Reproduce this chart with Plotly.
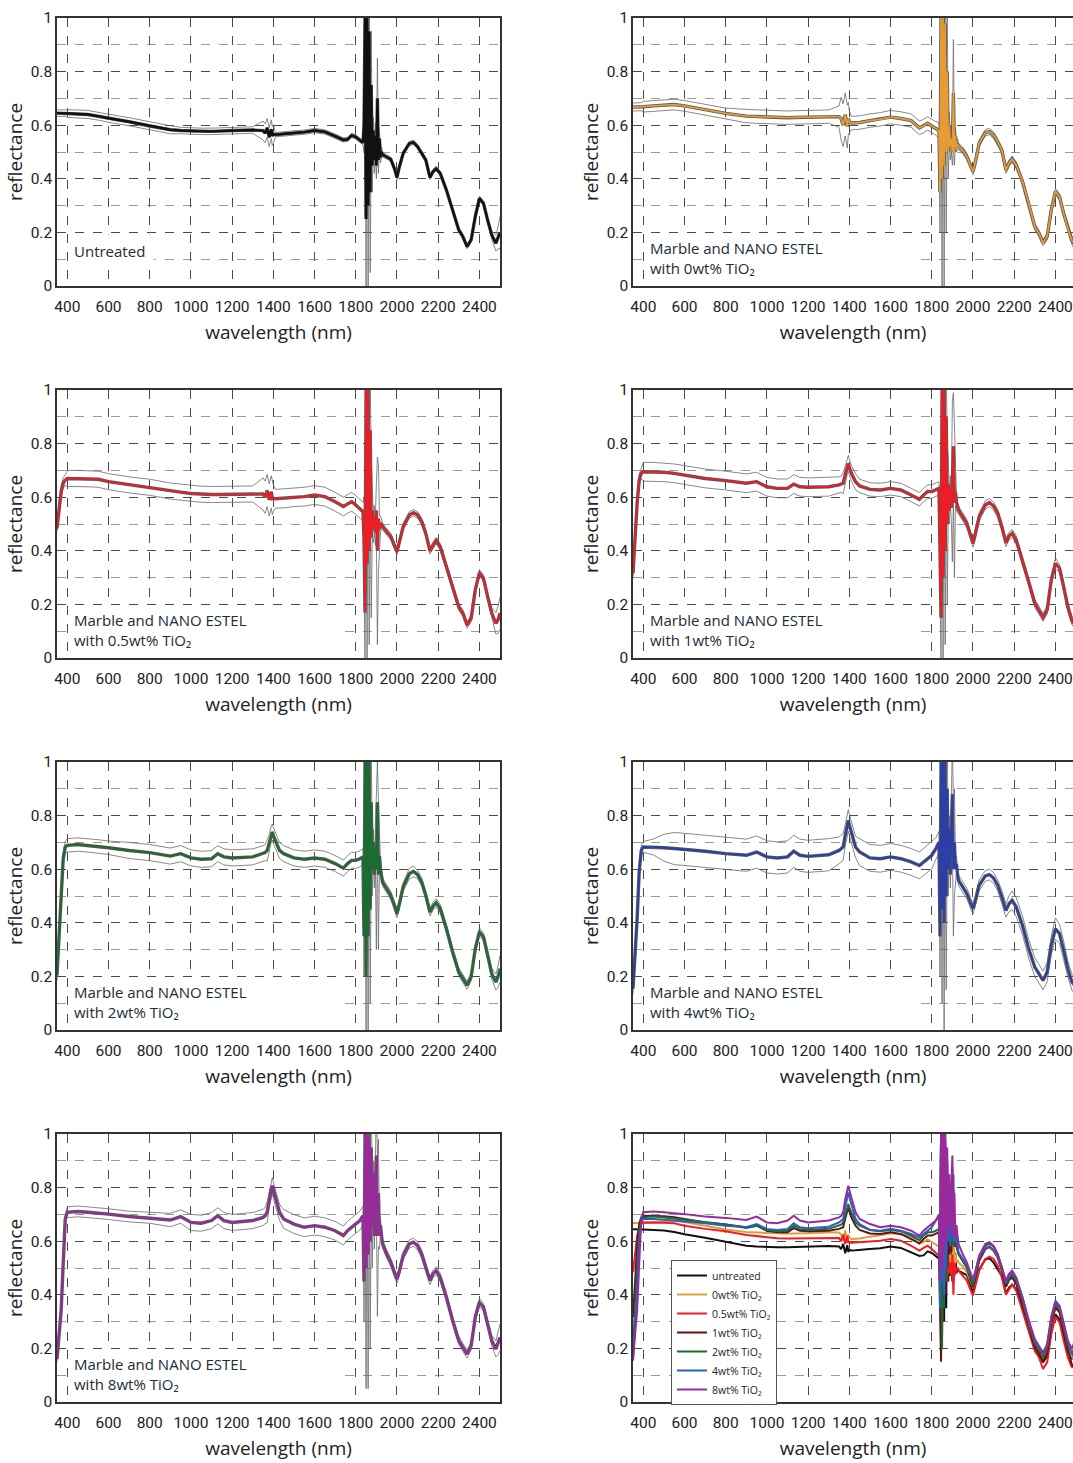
import plotly.graph_objects as go

# ---------------- data ----------------
wl = [350, 360, 370, 380, 390, 400, 450, 500, 550, 600,
      700, 800, 900, 950, 1000, 1050, 1100, 1130, 1160, 1200,
      1300, 1350, 1360, 1370, 1380, 1390, 1395, 1400, 1410, 1430,
      1450, 1500, 1550, 1600, 1650, 1700, 1740, 1760, 1780, 1800,
      1820, 1835,
      1840, 1845, 1850, 1855, 1860, 1865, 1870, 1875, 1880, 1885,
      1890, 1895, 1900, 1905, 1910, 1915, 1920, 1925,
      1930, 1950, 1970, 1990, 2000, 2010, 2030, 2060, 2080, 2100,
      2120, 2140, 2160, 2175, 2190, 2210, 2240, 2270, 2300, 2320,
      2340, 2360, 2380, 2400, 2420, 2440, 2460, 2480, 2490, 2500]

m_untreated = [
    0.645, 0.645, 0.645, 0.645, 0.645, 0.644, 0.642, 0.640, 0.634, 0.626,
    0.613, 0.597, 0.583, 0.580, 0.578, 0.577, 0.577, 0.578, 0.578, 0.580,
    0.582, 0.580, 0.570, 0.590, 0.555, 0.585, 0.560, 0.567, 0.565, 0.566,
    0.568, 0.571, 0.574, 0.580, 0.575, 0.560, 0.545, 0.547, 0.562, 0.556,
    0.545, 0.535,
    0.60, 1.00, 0.25, 1.00, 0.30, 0.95, 0.35, 0.75, 0.45, 0.58,
    0.47, 0.56, 0.45, 0.70, 0.47, 0.55, 0.48, 0.50,
    0.490, 0.483, 0.473, 0.433, 0.405, 0.440, 0.495, 0.532, 0.536, 0.520,
    0.495, 0.470, 0.405, 0.427, 0.438, 0.420, 0.358, 0.284, 0.209, 0.184,
    0.147, 0.172, 0.259, 0.327, 0.308, 0.246, 0.190, 0.160, 0.178, 0.200]
d_untreated = [
    0.012, 0.012, 0.012, 0.012, 0.012, 0.015, 0.015, 0.015, 0.015, 0.015,
    0.015, 0.015, 0.015, 0.012, 0.012, 0.012, 0.012, 0.012, 0.012, 0.012,
    0.012, 0.035, 0.035, 0.035, 0.035, 0.035, 0.035, 0.035, 0.008, 0.008,
    0.008, 0.008, 0.008, 0.008, 0.008, 0.008, 0.008, 0.008, 0.008, 0.008,
    0.008, 0.008,
    0.10, 0.20, 0.25, 0.20, 0.30, 0.20, 0.30, 0.20, 0.10, 0.05,
    0.05, 0.05, 0.05, 0.15, 0.05, 0.03, 0.02, 0.02,
    0.008, 0.008, 0.008, 0.008, 0.008, 0.008, 0.008, 0.008, 0.008, 0.008,
    0.008, 0.008, 0.008, 0.008, 0.008, 0.008, 0.008, 0.008, 0.008, 0.008,
    0.008, 0.008, 0.008, 0.008, 0.008, 0.010, 0.015, 0.030, 0.040, 0.060]

m_0wt = [
    0.668, 0.668, 0.668, 0.669, 0.669, 0.669, 0.672, 0.675, 0.677, 0.672,
    0.657, 0.644, 0.634, 0.632, 0.630, 0.629, 0.628, 0.629, 0.629, 0.630,
    0.632, 0.632, 0.625, 0.600, 0.640, 0.595, 0.625, 0.613, 0.608, 0.609,
    0.610, 0.617, 0.622, 0.630, 0.625, 0.617, 0.590, 0.597, 0.607, 0.597,
    0.588, 0.580,
    0.35, 1.00, 0.40, 1.00, 0.45, 0.98, 0.50, 0.80, 0.50, 0.60,
    0.52, 0.55, 0.50, 0.72, 0.50, 0.56, 0.52, 0.53,
    0.520, 0.507, 0.483, 0.450, 0.427, 0.458, 0.532, 0.572, 0.576, 0.563,
    0.538, 0.507, 0.433, 0.458, 0.473, 0.451, 0.390, 0.310, 0.221, 0.197,
    0.162, 0.184, 0.284, 0.352, 0.333, 0.271, 0.215, 0.170, 0.160, 0.150]
d_0wt = [
    0.015, 0.015, 0.015, 0.015, 0.015, 0.020, 0.020, 0.020, 0.020, 0.020,
    0.020, 0.020, 0.025, 0.025, 0.025, 0.025, 0.025, 0.025, 0.025, 0.025,
    0.025, 0.040, 0.080, 0.080, 0.080, 0.080, 0.060, 0.040, 0.025, 0.025,
    0.025, 0.025, 0.025, 0.025, 0.025, 0.025, 0.025, 0.025, 0.025, 0.025,
    0.025, 0.030,
    0.15, 0.20, 0.40, 0.20, 0.45, 0.20, 0.30, 0.20, 0.10, 0.05,
    0.05, 0.05, 0.05, 0.20, 0.05, 0.03, 0.02, 0.02,
    0.012, 0.012, 0.012, 0.012, 0.012, 0.012, 0.012, 0.012, 0.012, 0.012,
    0.012, 0.012, 0.012, 0.012, 0.012, 0.012, 0.012, 0.012, 0.012, 0.012,
    0.012, 0.012, 0.012, 0.012, 0.012, 0.012, 0.012, 0.015, 0.020, 0.030]

m_05wt = [
    0.484, 0.565, 0.620, 0.652, 0.664, 0.670, 0.670, 0.669, 0.667, 0.658,
    0.646, 0.637, 0.623, 0.619, 0.614, 0.611, 0.610, 0.610, 0.610, 0.610,
    0.612, 0.612, 0.600, 0.625, 0.590, 0.620, 0.595, 0.596, 0.594, 0.595,
    0.595, 0.600, 0.602, 0.608, 0.602, 0.583, 0.565, 0.575, 0.583, 0.571,
    0.558, 0.546,
    0.45, 0.17, 1.00, 0.35, 1.00, 0.40, 0.85, 0.45, 0.55, 0.48,
    0.52, 0.47, 0.55, 0.40, 0.52, 0.48, 0.50, 0.50,
    0.490, 0.471, 0.453, 0.415, 0.397, 0.428, 0.490, 0.534, 0.542, 0.534,
    0.509, 0.465, 0.400, 0.420, 0.438, 0.415, 0.341, 0.266, 0.190, 0.167,
    0.123, 0.148, 0.254, 0.318, 0.297, 0.229, 0.167, 0.129, 0.142, 0.167]
d_05wt = [
    0.010, 0.020, 0.020, 0.020, 0.020, 0.030, 0.030, 0.030, 0.030, 0.030,
    0.030, 0.030, 0.030, 0.030, 0.030, 0.030, 0.030, 0.030, 0.030, 0.030,
    0.030, 0.060, 0.060, 0.060, 0.060, 0.060, 0.060, 0.050, 0.035, 0.035,
    0.035, 0.035, 0.035, 0.035, 0.035, 0.035, 0.035, 0.035, 0.035, 0.035,
    0.035, 0.035,
    0.15, 0.20, 0.20, 0.35, 0.20, 0.35, 0.20, 0.30, 0.10, 0.05,
    0.05, 0.05, 0.10, 0.35, 0.20, 0.05, 0.03, 0.02,
    0.012, 0.012, 0.012, 0.012, 0.012, 0.012, 0.012, 0.012, 0.012, 0.012,
    0.012, 0.012, 0.012, 0.012, 0.012, 0.012, 0.012, 0.012, 0.012, 0.012,
    0.012, 0.012, 0.012, 0.012, 0.012, 0.012, 0.020, 0.040, 0.050, 0.060]

m_1wt = [
    0.316, 0.453, 0.577, 0.664, 0.689, 0.695, 0.695, 0.693, 0.689, 0.683,
    0.670, 0.662, 0.652, 0.658, 0.639, 0.633, 0.633, 0.649, 0.639, 0.637,
    0.639, 0.646, 0.648, 0.652, 0.685, 0.715, 0.726, 0.712, 0.689, 0.658,
    0.642, 0.629, 0.627, 0.633, 0.627, 0.608, 0.592, 0.608, 0.621, 0.621,
    0.627, 0.633,
    0.40, 0.15, 1.00, 0.30, 1.00, 0.40, 0.90, 0.50, 0.65, 0.55,
    0.63, 0.56, 0.66, 0.79, 0.58, 0.62, 0.58, 0.56,
    0.552, 0.527, 0.502, 0.453, 0.428, 0.459, 0.527, 0.571, 0.580, 0.567,
    0.540, 0.490, 0.430, 0.455, 0.465, 0.440, 0.366, 0.285, 0.204, 0.179,
    0.152, 0.179, 0.291, 0.353, 0.335, 0.266, 0.192, 0.140, 0.130, 0.120]
d_1wt = [
    0.020, 0.020, 0.020, 0.020, 0.020, 0.035, 0.035, 0.035, 0.035, 0.035,
    0.035, 0.035, 0.035, 0.035, 0.035, 0.035, 0.035, 0.035, 0.035, 0.035,
    0.035, 0.030, 0.030, 0.040, 0.030, 0.030, 0.030, 0.030, 0.030, 0.030,
    0.025, 0.025, 0.025, 0.025, 0.025, 0.025, 0.025, 0.025, 0.025, 0.025,
    0.025, 0.025,
    0.15, 0.15, 0.20, 0.30, 0.20, 0.35, 0.20, 0.30, 0.10, 0.05,
    0.05, 0.05, 0.30, 0.20, 0.28, 0.05, 0.03, 0.02,
    0.015, 0.015, 0.015, 0.015, 0.015, 0.015, 0.015, 0.015, 0.015, 0.015,
    0.015, 0.015, 0.015, 0.015, 0.015, 0.015, 0.015, 0.015, 0.015, 0.015,
    0.015, 0.015, 0.015, 0.020, 0.015, 0.015, 0.015, 0.015, 0.015, 0.015]

m_2wt = [
    0.204, 0.340, 0.502, 0.639, 0.683, 0.689, 0.692, 0.689, 0.685, 0.680,
    0.670, 0.662, 0.649, 0.658, 0.642, 0.637, 0.639, 0.658, 0.646, 0.642,
    0.646, 0.658, 0.662, 0.670, 0.700, 0.730, 0.739, 0.725, 0.708, 0.670,
    0.658, 0.642, 0.637, 0.642, 0.637, 0.621, 0.604, 0.621, 0.633, 0.633,
    0.639, 0.646,
    0.35, 1.00, 0.20, 1.00, 0.35, 1.00, 0.45, 0.85, 0.60, 0.70,
    0.58, 0.68, 0.60, 0.85, 0.58, 0.65, 0.60, 0.58,
    0.552, 0.527, 0.502, 0.459, 0.434, 0.465, 0.534, 0.583, 0.592, 0.580,
    0.552, 0.502, 0.440, 0.462, 0.475, 0.453, 0.378, 0.291, 0.216, 0.192,
    0.167, 0.198, 0.303, 0.366, 0.347, 0.279, 0.210, 0.179, 0.198, 0.229]
d_2wt = [
    0.020, 0.020, 0.020, 0.020, 0.020, 0.025, 0.025, 0.025, 0.025, 0.025,
    0.030, 0.030, 0.030, 0.030, 0.030, 0.030, 0.030, 0.030, 0.030, 0.030,
    0.030, 0.030, 0.030, 0.040, 0.030, 0.030, 0.030, 0.030, 0.030, 0.030,
    0.030, 0.030, 0.030, 0.030, 0.030, 0.030, 0.030, 0.030, 0.030, 0.030,
    0.030, 0.030,
    0.15, 0.20, 0.20, 0.20, 0.35, 0.20, 0.35, 0.20, 0.10, 0.05,
    0.05, 0.05, 0.30, 0.15, 0.28, 0.05, 0.03, 0.02,
    0.015, 0.015, 0.015, 0.015, 0.015, 0.015, 0.015, 0.020, 0.020, 0.015,
    0.015, 0.015, 0.015, 0.015, 0.015, 0.015, 0.015, 0.015, 0.015, 0.015,
    0.015, 0.015, 0.015, 0.015, 0.015, 0.015, 0.020, 0.030, 0.040, 0.050]

m_4wt = [
    0.154, 0.266, 0.415, 0.590, 0.670, 0.683, 0.683, 0.680, 0.677, 0.674,
    0.667, 0.658, 0.652, 0.664, 0.646, 0.642, 0.646, 0.667, 0.652, 0.648,
    0.654, 0.670, 0.675, 0.683, 0.726, 0.770, 0.782, 0.765, 0.739, 0.683,
    0.664, 0.642, 0.639, 0.646, 0.639, 0.627, 0.614, 0.627, 0.642, 0.652,
    0.677, 0.701,
    0.35, 1.00, 0.45, 1.00, 0.40, 1.00, 0.50, 0.90, 0.60, 0.75,
    0.58, 0.72, 0.88, 0.60, 0.70, 0.60, 0.62, 0.58,
    0.558, 0.534, 0.509, 0.471, 0.453, 0.478, 0.540, 0.575, 0.580, 0.567,
    0.540, 0.496, 0.446, 0.471, 0.484, 0.459, 0.391, 0.304, 0.235, 0.210,
    0.185, 0.216, 0.316, 0.378, 0.359, 0.297, 0.229, 0.179, 0.170, 0.160]
d_4wt = [
    0.020, 0.020, 0.020, 0.020, 0.020, 0.020, 0.030, 0.050, 0.060, 0.060,
    0.060, 0.060, 0.060, 0.060, 0.060, 0.060, 0.060, 0.060, 0.060, 0.060,
    0.060, 0.050, 0.050, 0.050, 0.040, 0.040, 0.040, 0.040, 0.040, 0.040,
    0.050, 0.050, 0.050, 0.050, 0.050, 0.050, 0.050, 0.050, 0.050, 0.050,
    0.040, 0.040,
    0.15, 0.20, 0.35, 0.20, 0.40, 0.20, 0.35, 0.20, 0.10, 0.05,
    0.05, 0.05, 0.20, 0.25, 0.20, 0.05, 0.03, 0.02,
    0.020, 0.020, 0.020, 0.020, 0.020, 0.020, 0.020, 0.020, 0.020, 0.020,
    0.020, 0.025, 0.025, 0.030, 0.035, 0.035, 0.035, 0.035, 0.035, 0.035,
    0.035, 0.035, 0.035, 0.040, 0.035, 0.035, 0.030, 0.030, 0.030, 0.030]

m_8wt = [
    0.160, 0.266, 0.340, 0.515, 0.683, 0.708, 0.711, 0.708, 0.705, 0.701,
    0.692, 0.687, 0.679, 0.692, 0.670, 0.667, 0.677, 0.695, 0.677, 0.670,
    0.677, 0.689, 0.695, 0.708, 0.757, 0.795, 0.807, 0.790, 0.764, 0.708,
    0.683, 0.664, 0.652, 0.658, 0.652, 0.639, 0.621, 0.639, 0.652, 0.664,
    0.677, 0.695,
    0.45, 1.00, 0.50, 1.00, 0.55, 1.00, 0.60, 0.95, 0.65, 0.85,
    0.62, 0.80, 0.92, 0.62, 0.78, 0.62, 0.66, 0.62,
    0.590, 0.552, 0.521, 0.478, 0.459, 0.484, 0.546, 0.590, 0.596, 0.583,
    0.552, 0.502, 0.453, 0.478, 0.490, 0.465, 0.391, 0.304, 0.229, 0.204,
    0.179, 0.210, 0.316, 0.372, 0.353, 0.291, 0.229, 0.198, 0.216, 0.241]
d_8wt = [
    0.010, 0.010, 0.010, 0.010, 0.010, 0.020, 0.020, 0.020, 0.020, 0.020,
    0.020, 0.020, 0.025, 0.025, 0.030, 0.030, 0.030, 0.030, 0.030, 0.030,
    0.030, 0.030, 0.030, 0.040, 0.030, 0.030, 0.030, 0.030, 0.030, 0.030,
    0.035, 0.035, 0.035, 0.035, 0.035, 0.035, 0.035, 0.035, 0.035, 0.035,
    0.035, 0.035,
    0.15, 0.20, 0.45, 0.20, 0.50, 0.20, 0.40, 0.20, 0.15, 0.05,
    0.05, 0.05, 0.20, 0.30, 0.20, 0.05, 0.03, 0.02,
    0.015, 0.015, 0.015, 0.015, 0.015, 0.015, 0.015, 0.015, 0.015, 0.015,
    0.015, 0.015, 0.015, 0.015, 0.015, 0.015, 0.015, 0.015, 0.015, 0.015,
    0.015, 0.015, 0.015, 0.015, 0.015, 0.015, 0.020, 0.030, 0.040, 0.050]

series_names = ["untreated", "0wt% TiO₂", "0.5wt% TiO₂", "1wt% TiO₂",
                "2wt% TiO₂", "4wt% TiO₂", "8wt% TiO₂"]
panel_labels = ["Untreated",
                "Marble and NANO ESTEL<br>with 0wt% TiO₂",
                "Marble and NANO ESTEL<br>with 0.5wt% TiO₂",
                "Marble and NANO ESTEL<br>with 1wt% TiO₂",
                "Marble and NANO ESTEL<br>with 2wt% TiO₂",
                "Marble and NANO ESTEL<br>with 4wt% TiO₂",
                "Marble and NANO ESTEL<br>with 8wt% TiO₂"]
means = [m_untreated, m_0wt, m_05wt, m_1wt, m_2wt, m_4wt, m_8wt]
devs = [d_untreated, d_0wt, d_05wt, d_1wt, d_2wt, d_4wt, d_8wt]
for a in means + devs:
    if len(a) != len(wl):
        raise ValueError("length mismatch %d" % len(a))

panel_colors = ["#111111", "#E59C35", "#EE1C25", "#EE1C25", "#1C6B33", "#2B3FA6", "#992A9C"]
combo_colors = ["#111111", "#E59C35", "#EE1C25", "#5E1414", "#1C6B33", "#2D5FC0", "#992A9C"]

y_ticks = [0, 0.2, 0.4, 0.6, 0.8, 1]
y_ticktext = ["0", "0.2", "0.4", "0.6", "0.8", "1"]
x_ticks = [400, 600, 800, 1000, 1200, 1400, 1600, 1800, 2000, 2200, 2400]

# ---------------- layout geometry ----------------
W, H = 1073, 1463
col_px = [(57, 500), (633, 1073)]
row_px = [(18, 286), (390, 658), (762, 1030), (1134, 1402)]
px_per_nm = (500 - 57) / (2500 - 350)
right_max = 350 + (1073 - 633) / px_per_nm

fig = go.Figure()

tick_font = dict(family="Roboto, sans-serif", size=15.5, color="#222222")
title_font = dict(family="Open Sans, Noto Sans, sans-serif", size=19, color="#222222")
label_font = dict(family="Open Sans, Noto Sans, sans-serif", size=15, color="#1d2b3a")

for p in range(8):
    r, c = divmod(p, 2)
    ax = "" if p == 0 else str(p + 1)
    xref, yref = "x" + ax, "y" + ax
    x0, x1 = col_px[c]
    t0, t1 = row_px[r]
    xr = [350, 2500] if c == 0 else [350, right_max]
    fig.layout["xaxis" + ax] = dict(
        domain=[x0 / W, x1 / W], anchor=yref, range=xr,
        tickvals=x_ticks, ticks="", tickangle=0, tickfont=tick_font,
        ticklabeloverflow="allow", ticklabelstandoff=6,
        showgrid=True, gridcolor="#4a4a4a", griddash="dash", gridwidth=1,
        showline=True, linecolor="#333333", linewidth=1.5, mirror=True,
        zeroline=False, automargin=False,
        title=dict(text="wavelength (nm)", font=title_font, standoff=10),
    )
    fig.layout["yaxis" + ax] = dict(
        domain=[1 - t1 / H, 1 - t0 / H], anchor=xref, range=[0, 1],
        tickvals=y_ticks, ticktext=y_ticktext, ticks="", tickfont=tick_font,
        ticklabeloverflow="allow",
        showgrid=True, gridcolor="#4a4a4a", griddash="dash", gridwidth=1,
        minor=dict(dtick=0.1, tick0=0, showgrid=True, gridcolor="#9a9a9a", griddash="dash", gridwidth=1),
        showline=True, linecolor="#333333", linewidth=1.5, mirror=(c == 0),
        zeroline=False, automargin=False,
        title=dict(text="reflectance", font=title_font, standoff=3),
    )

    if p < 7:
        m, d = means[p], devs[p]
        hi = [a + b for a, b in zip(m, d)]
        lo = [a - b for a, b in zip(m, d)]
        for band in (hi, lo):
            fig.add_trace(go.Scatter(x=wl, y=band, mode="lines", xaxis=xref, yaxis=yref,
                                     line=dict(color="#6a6a6a", width=0.8),
                                     showlegend=False, hoverinfo="skip"))
        fig.add_trace(go.Scatter(x=wl, y=m, mode="lines", xaxis=xref, yaxis=yref,
                                 line=dict(color="#5a5a5a", width=3.4),
                                 showlegend=False, hoverinfo="skip"))
        fig.add_trace(go.Scatter(x=wl, y=m, mode="lines", xaxis=xref, yaxis=yref,
                                 line=dict(color=panel_colors[p], width=1.8 if p else 2.4),
                                 name=series_names[p], showlegend=False))
        if p == 0:
            fig.add_annotation(x=425, y=0.13, xref=xref, yref=yref, text=panel_labels[p],
                               showarrow=False, xanchor="left", yanchor="middle", align="left",
                               width=78, height=30, bgcolor="white", font=label_font)
        else:
            fig.add_annotation(x=425, y=0.105, xref=xref, yref=yref, text=panel_labels[p],
                               showarrow=False, xanchor="left", yanchor="middle", align="left",
                               width=262, height=46, bgcolor="white", font=label_font)
    else:
        for i in range(7):
            fig.add_trace(go.Scatter(x=wl, y=means[i], mode="lines", xaxis=xref, yaxis=yref,
                                     line=dict(color=combo_colors[i], width=2),
                                     name=series_names[i], showlegend=True))

fig.update_layout(
    width=W, height=H,
    margin=dict(l=0, r=0, t=0, b=0),
    paper_bgcolor="white", plot_bgcolor="white",
    showlegend=True,
    legend=dict(x=671 / W, y=1 - 1260 / H, xanchor="left", yanchor="top",
                bgcolor="white", bordercolor="#555555", borderwidth=1,
                font=dict(family="Open Sans, Noto Sans, sans-serif", size=10.5, color="#222222"),
                tracegroupgap=0, itemwidth=30),
)

fig.write_html("out.html")
